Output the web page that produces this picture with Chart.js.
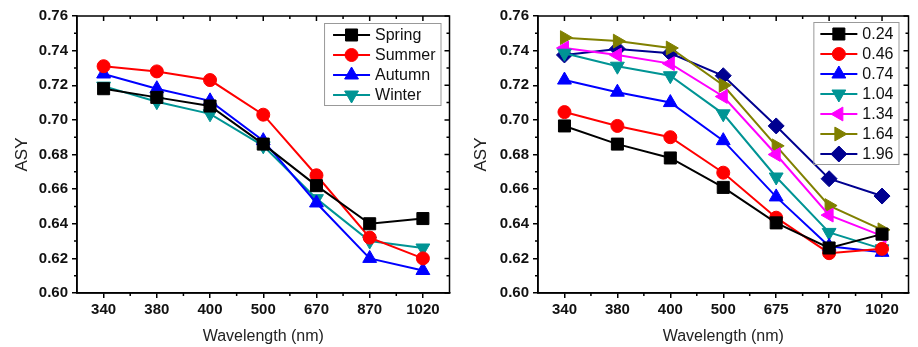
<!DOCTYPE html>
<html>
<head>
<meta charset="utf-8">
<script src="https://cdn.jsdelivr.net/npm/chart.js@4.4.1/dist/chart.umd.min.js"></script>
<style>
  html, body { margin: 0; padding: 0; background: #fff; }
  #wrap { width: 918px; height: 347px; display: flex; }
  .box { width: 459px; height: 347px; position: relative; }
</style>
</head>
<body>
<div id="wrap">
  <div class="box"><canvas id="seasons"></canvas></div>
  <div class="box"><canvas id="aod"></canvas></div>
</div>
<script>
// left panel: seasons
const seasonWavelengths = ['340', '380', '400', '500', '670', '870', '1020'];
const spring = [0.718, 0.713, 0.708, 0.686, 0.662, 0.640, 0.643];
const summer = [0.731, 0.728, 0.723, 0.703, 0.668, 0.632, 0.620];
const autumn = [0.7265, 0.718, 0.711, 0.688, 0.652, 0.620, 0.613];
const winter = [0.7195, 0.7105, 0.7035, 0.685, 0.6545, 0.630, 0.626];

// right panel: AOD bins
const aodWavelengths = ['340', '380', '400', '500', '675', '870', '1020'];
const aod024 = [0.6965, 0.686, 0.678, 0.661, 0.6405, 0.626, 0.634];
const aod046 = [0.7045, 0.6965, 0.690, 0.6695, 0.6435, 0.623, 0.6255];
const aod074 = [0.723, 0.716, 0.710, 0.688, 0.6555, 0.627, 0.6235];
const aod104 = [0.7385, 0.731, 0.7255, 0.7035, 0.667, 0.635, 0.6255];
const aod134 = [0.7415, 0.7375, 0.7325, 0.7135, 0.680, 0.645, 0.633];
const aod164 = [0.7475, 0.7455, 0.7415, 0.720, 0.685, 0.6505, 0.6365];
const aod196 = [0.7375, 0.741, 0.7385, 0.7255, 0.6965, 0.666, 0.656];

const yTicks = [0.60, 0.62, 0.64, 0.66, 0.68, 0.70, 0.72, 0.74, 0.76];

const FONT = '"Liberation Sans", Arial, sans-serif';

const markerRadius = { rect: 8.5, circle: 6.5, triangle: 8, rectRot: 8 };

function serie(label, data, color, style, rotation) {
    return {
        label: label,
        data: data,
        borderColor: color,
        backgroundColor: color,
        borderWidth: 2,
        pointStyle: style,
        rotation: rotation || 0,
        pointRadius: markerRadius[style],
        pointHoverRadius: markerRadius[style],
        pointBorderWidth: 1,
        tension: 0
    };
}

// ticks on all four sides plus minor ticks, drawn from the scales
const frameTicks = {
    id: 'frameTicks',
    afterDraw(chart) {
        const ctx = chart.ctx;
        const a = chart.chartArea;
        const xs = chart.scales.x, ys = chart.scales.y;
        ctx.save();
        ctx.strokeStyle = '#000';
        ctx.lineWidth = 1.5;
        ctx.strokeRect(a.left, a.top, a.right - a.left, a.bottom - a.top);
        ctx.beginPath();
        for (let i = 0; i < xs.ticks.length; i++) {
            const px = xs.getPixelForValue(i);
            ctx.moveTo(px, a.top); ctx.lineTo(px, a.top + 5);
            if (i < xs.ticks.length - 1) {
                const mx = xs.getPixelForValue(i + 0.5);
                ctx.moveTo(mx, a.bottom); ctx.lineTo(mx, a.bottom + 3);
                ctx.moveTo(mx, a.top); ctx.lineTo(mx, a.top + 3);
            }
        }
        for (let k = 0; k < yTicks.length; k++) {
            const py = ys.getPixelForValue(yTicks[k]);
            ctx.moveTo(a.right, py); ctx.lineTo(a.right - 5, py);
            if (k < yTicks.length - 1) {
                const my = ys.getPixelForValue((yTicks[k] + yTicks[k + 1]) / 2);
                ctx.moveTo(a.left, my); ctx.lineTo(a.left - 3, my);
                ctx.moveTo(a.right, my); ctx.lineTo(a.right - 3, my);
            }
        }
        ctx.stroke();
        ctx.restore();
    }
};

// legend box inside the plot, upper right
const boxLegend = {
    id: 'boxLegend',
    afterDatasetsDraw(chart, args, opts) {
        const ctx = chart.ctx;
        const a = chart.chartArea;
        const sets = chart.data.datasets;
        ctx.save();
        ctx.font = '16px ' + FONT;
        let tw = 0;
        sets.forEach(d => { tw = Math.max(tw, ctx.measureText(d.label).width); });
        const w = opts.textX + tw + 5;
        const h = 20 * sets.length + 2;
        const left = a.right - opts.right - w;
        const top = a.top + opts.top;
        ctx.strokeStyle = '#999';
        ctx.lineWidth = 1;
        ctx.strokeRect(left + 0.5, top + 0.5, w, h);
        sets.forEach((d, i) => {
            const y = top + 12 + 20 * i;
            ctx.strokeStyle = d.borderColor;
            ctx.lineWidth = 2;
            ctx.beginPath();
            ctx.moveTo(left + opts.lineX0, y);
            ctx.lineTo(left + opts.lineX1, y);
            ctx.stroke();
            ctx.fillStyle = d.backgroundColor;
            ctx.lineWidth = 1;
            Chart.helpers.drawPoint(ctx, {
                pointStyle: d.pointStyle, radius: d.pointRadius, rotation: d.rotation, borderWidth: 1
            }, (left + opts.lineX0 + left + opts.lineX1) / 2, y);
            ctx.fillStyle = '#111';
            ctx.textBaseline = 'middle';
            ctx.fillText(d.label, left + opts.textX, y + 1);
        });
        ctx.restore();
    }
};

function makeChart(id, labels, datasets, yWidth, rightPad, legendOpts) {
    return new Chart(document.getElementById(id).getContext('2d'), {
        type: 'line',
        data: { labels: labels, datasets: datasets },
        plugins: [frameTicks, boxLegend],
        options: {
            responsive: false,
            animation: false,
            devicePixelRatio: 1,
            layout: { padding: { left: 0, top: 16, right: rightPad, bottom: 0 } },
            plugins: {
                legend: { display: false },
                tooltip: { enabled: false },
                boxLegend: legendOpts
            },
            scales: {
                x: {
                    offset: true,
                    grid: { display: true, drawOnChartArea: false, drawTicks: true, tickLength: 5, color: '#000', lineWidth: 1.5 },
                    border: { display: true, color: '#000', width: 1.5 },
                    ticks: { color: '#111', padding: 3, font: { family: FONT, size: 15, weight: 'bold' }, maxRotation: 0 },
                    title: { display: true, text: 'Wavelength (nm)', color: '#222', font: { family: FONT, size: 16 }, padding: { top: 0, bottom: 1 } },
                    afterFit: s => { s.height = 54; }
                },
                y: {
                    min: 0.6,
                    max: 0.76,
                    grid: { display: true, drawOnChartArea: false, drawTicks: true, tickLength: 5, color: '#000', lineWidth: 1.5 },
                    border: { display: true, color: '#000', width: 1.5 },
                    ticks: { stepSize: 0.02, color: '#111', padding: 4, font: { family: FONT, size: 15, weight: 'bold' }, callback: v => v.toFixed(2) },
                    title: { display: true, text: 'ASY', color: '#222', font: { family: FONT, size: 17 }, padding: { top: 12, bottom: 0 } },
                    afterFit: s => { s.width = yWidth; }
                }
            }
        }
    });
}

function sizeCanvas(id) {
    const c = document.getElementById(id);
    c.width = 459; c.height = 347;
    c.style.width = '459px'; c.style.height = '347px';
}
sizeCanvas('seasons');
sizeCanvas('aod');

makeChart('seasons', seasonWavelengths, [
    serie('Spring', spring, '#000000', 'rect'),
    serie('Summer', summer, '#ff0000', 'circle'),
    serie('Autumn', autumn, '#0000ff', 'triangle'),
    serie('Winter', winter, '#009494', 'triangle', 180)
], 77, 4, { right: 9, top: 7, lineX0: 9, lineX1: 46, textX: 51 });

makeChart('aod', aodWavelengths, [
    serie('0.24', aod024, '#000000', 'rect'),
    serie('0.46', aod046, '#ff0000', 'circle'),
    serie('0.74', aod074, '#0000ff', 'triangle'),
    serie('1.04', aod104, '#009494', 'triangle', 180),
    serie('1.34', aod134, '#ff00ff', 'triangle', 270),
    serie('1.64', aod164, '#808000', 'triangle', 90),
    serie('1.96', aod196, '#000090', 'rectRot')
], 79, 2, { right: 10, top: 6, lineX0: 7, lineX1: 44, textX: 49 });
</script>
</body>
</html>
